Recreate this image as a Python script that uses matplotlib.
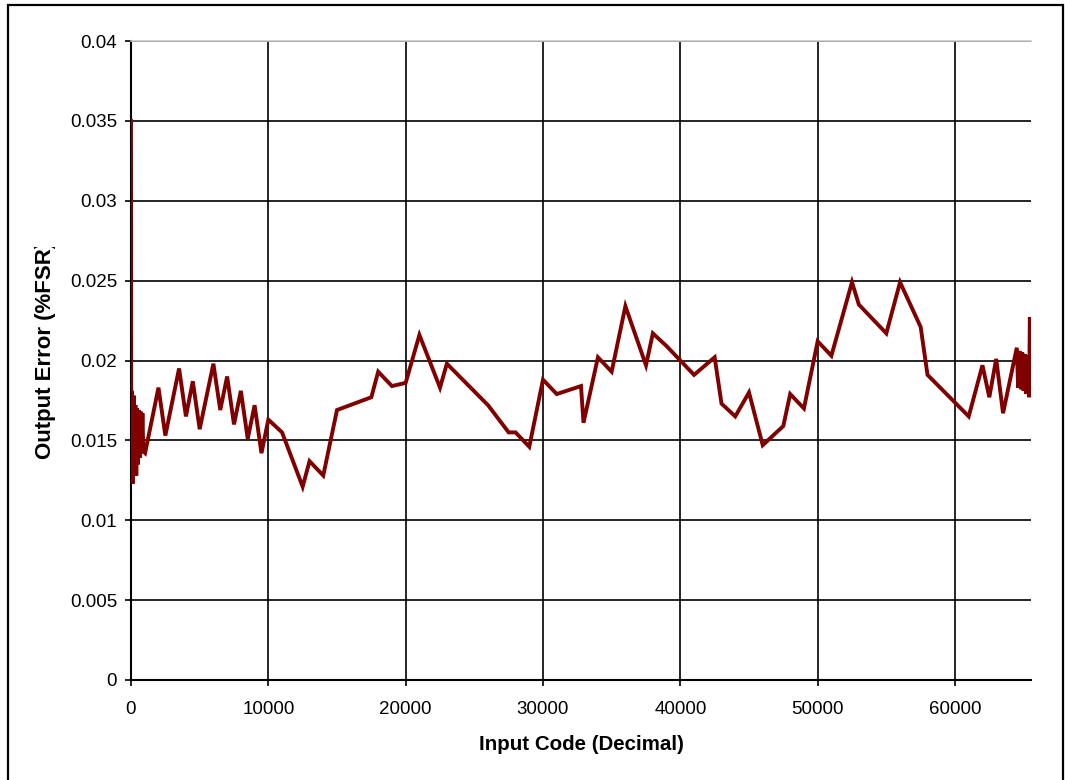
import matplotlib.pyplot as plt
from matplotlib.patches import Rectangle
from matplotlib.transforms import Bbox, TransformedBbox

plt.rcParams['font.family'] = ['Liberation Sans', 'DejaVu Sans']

# Output error vs. DAC input code
codes = [0, 16, 64, 128, 192, 256, 320, 384, 448, 512, 576, 640, 704, 768, 832, 896, 1024,
         2000, 2500, 3500, 4000, 4500, 5000, 6000, 6500, 7000, 7500, 8000, 8500, 9000, 9500,
         10000, 11000, 12500, 13000, 14000, 15000, 17500, 18000, 19000, 20000, 21000, 22500,
         23000, 26000, 27500, 28000, 29000, 30000, 31000, 32767, 32950, 34000, 35000, 36000,
         37500, 38000, 39000, 41000, 42500, 43000, 44000, 45000, 46000, 47500, 48000, 49000,
         50000, 51000, 52500, 53000, 55000, 56000, 57500, 58000, 61000, 62000, 62500, 63000,
         63500, 64500, 64600, 64700, 64800, 64900, 65000, 65100, 65200, 65300, 65400, 65450,
         65535]
error_fsr = [0.0350, 0.0125, 0.0181, 0.0123, 0.0178, 0.0134, 0.0172, 0.0128, 0.0170, 0.0135,
             0.0169, 0.0139, 0.0168, 0.0142, 0.0167, 0.0143, 0.0142,
             0.0183, 0.0153, 0.0195, 0.0165, 0.0187, 0.0157, 0.0198, 0.0169, 0.0190, 0.0160,
             0.0181, 0.0151, 0.0172, 0.0142,
             0.0163, 0.0155, 0.0121, 0.0137, 0.0128, 0.0169, 0.0177, 0.0193, 0.0184, 0.0186,
             0.0216, 0.0183,
             0.0198, 0.0172, 0.0155, 0.0155, 0.0146, 0.0188, 0.0179, 0.0184, 0.0161, 0.0202,
             0.0193, 0.0234,
             0.0197, 0.0217, 0.0209, 0.0191, 0.0202, 0.0173, 0.0165, 0.0180, 0.0147, 0.0159,
             0.0179, 0.0170,
             0.0212, 0.0203, 0.0249, 0.0235, 0.0217, 0.0249, 0.0221, 0.0191, 0.0165, 0.0197,
             0.0177, 0.0201,
             0.0167, 0.0208, 0.0183, 0.0206, 0.0182, 0.0205, 0.0181, 0.0204, 0.0179, 0.0203,
             0.0177, 0.0227,
             0.0213]

x_ticks = [0, 10000, 20000, 30000, 40000, 50000, 60000]
y_ticks = [0, 0.005, 0.01, 0.015, 0.02, 0.025, 0.03, 0.035, 0.04]
y_tick_labels = ['0', '0.005', '0.01', '0.015', '0.02', '0.025', '0.03', '0.035', '0.04']

W, H = 1065, 780
fig = plt.figure(figsize=(W / 100, H / 100), dpi=100)
ax = fig.add_axes([131 / W, 1 - 680 / H, 900 / W, 639 / H])

ax.plot(codes, error_fsr, color='#800000', lw=2.8, zorder=3, solid_joinstyle='miter')

ax.set_xlim(0, 65535)
ax.set_ylim(0, 0.04)
ax.set_xticks(x_ticks)
ax.set_xticklabels([str(t) for t in x_ticks])
ax.set_yticks(y_ticks)
ax.set_yticklabels(y_tick_labels)
ax.tick_params(labelsize=13.5, length=4, width=1.2, color='black', pad=6)
ax.tick_params(axis='x', pad=11)

ax.grid(True, color='black', lw=1.2)
ax.set_axisbelow(True)

ax.spines['right'].set_visible(False)
ax.spines['top'].set_color('#c8c8c8')
ax.spines['top'].set_linewidth(1.2)
for side in ('left', 'bottom'):
    ax.spines[side].set_color('black')
    ax.spines[side].set_linewidth(1.5)

fig.text(581 / W, 1 - 745 / H, 'Input Code (Decimal)', ha='center', va='center',
         fontsize=14.8, fontweight='bold')

# y label box is too short, the closing parenthesis gets cut off
ylab = fig.text(46 / W, 1 - 459 / H, 'Output Error (%FSR)', rotation=90,
                ha='center', va='bottom', fontsize=16, fontweight='bold')
ylab.set_clip_box(TransformedBbox(Bbox.from_extents(0, 0, 1, 1 - 247 / H), fig.transFigure))
ylab.set_clip_on(True)

# outer chart frame
fig.add_artist(Rectangle((7.5 / W, -0.05), 1055 / W, 1.05 - 5 / H, transform=fig.transFigure,
                         fill=False, edgecolor='black', lw=1.6))

fig.savefig('out.png', dpi=100)
